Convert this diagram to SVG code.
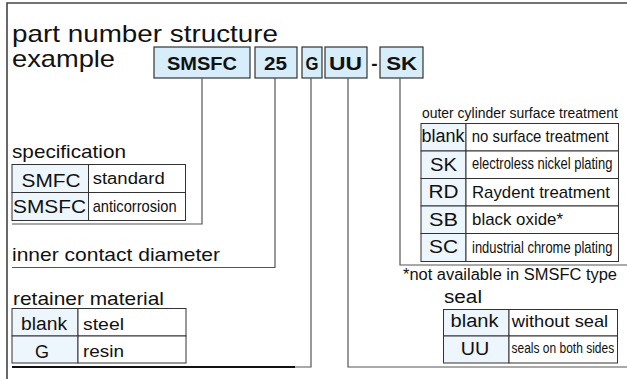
<svg xmlns="http://www.w3.org/2000/svg" width="627" height="379" viewBox="0 0 627 379">
<style>
text{font-family:"Liberation Sans",Arial,sans-serif;fill:#111}
.code{font-weight:bold;font-size:19px}
.cb{fill:#d7edfa;stroke:#333;stroke-width:1.2}
.kc{fill:#edf5fd;stroke:#333;stroke-width:1}
.vc{fill:#fff;stroke:#333;stroke-width:1}
.ln{fill:none;stroke:#555;stroke-width:1.2}
.fr{fill:none;stroke:#444;stroke-width:1.6}
</style>
<rect width="627" height="379" fill="#fff"/>
<path class="fr" d="M7,379 V3 H627"/>
<g id="title">
<text x="12" y="42" font-size="24" textLength="266" lengthAdjust="spacingAndGlyphs">part number structure</text>
<text x="12" y="66.5" font-size="24" textLength="103" lengthAdjust="spacingAndGlyphs">example</text>
</g>
<g id="code">
<rect class="cb" x="154" y="47" width="96" height="31"/>
<rect class="cb" x="255" y="47" width="42" height="31"/>
<rect class="cb" x="302" y="47" width="20" height="31"/>
<rect class="cb" x="325" y="47" width="42" height="31"/>
<rect class="cb" x="380" y="47" width="43" height="31"/>
<text class="code" x="202" y="70" text-anchor="middle" textLength="70" lengthAdjust="spacingAndGlyphs">SMSFC</text>
<text class="code" x="275.5" y="70" text-anchor="middle" textLength="23" lengthAdjust="spacingAndGlyphs">25</text>
<text class="code" x="312" y="70" text-anchor="middle" textLength="13" lengthAdjust="spacingAndGlyphs">G</text>
<text class="code" x="345.5" y="70" text-anchor="middle" textLength="33" lengthAdjust="spacingAndGlyphs">UU</text>
<text class="code" x="374.3" y="70" text-anchor="middle">-</text>
<text class="code" x="401.7" y="70" text-anchor="middle" textLength="31" lengthAdjust="spacingAndGlyphs">SK</text>
</g>
<g id="connectors">
<path class="ln" d="M202,78 V224 H12"/>
<path class="ln" d="M275,78 V267.5 H12"/>
<path class="ln" d="M311,78 V367 H12"/>
<path d="M12,367 H295" stroke="#111" stroke-width="2"/>
<path class="ln" d="M348,78 V367 H627"/>
<path class="ln" d="M400,78 V265 H627"/>
</g>
<g id="specification">
<text x="12" y="158" font-size="19" textLength="114" lengthAdjust="spacingAndGlyphs">specification</text>
<rect class="kc" x="12" y="164.5" width="76.5" height="28"/>
<rect class="vc" x="88.5" y="164.5" width="97" height="28"/>
<rect class="kc" x="12" y="192.5" width="76.5" height="28"/>
<rect class="vc" x="88.5" y="192.5" width="97" height="28"/>
<text x="51" y="187" font-size="18" text-anchor="middle" textLength="59" lengthAdjust="spacingAndGlyphs">SMFC</text>
<text x="92.7" y="183.5" font-size="16" textLength="72" lengthAdjust="spacingAndGlyphs">standard</text>
<text x="49.5" y="213" font-size="18" text-anchor="middle" textLength="73" lengthAdjust="spacingAndGlyphs">SMSFC</text>
<text transform="translate(92.7,211.5) scale(0.917,1)" font-size="16">anticorrosion</text>
</g>
<g id="inner-diameter">
<text x="12" y="261" font-size="19" textLength="208" lengthAdjust="spacingAndGlyphs">inner contact diameter</text>
</g>
<g id="retainer">
<text x="13" y="305" font-size="19" textLength="151" lengthAdjust="spacingAndGlyphs">retainer material</text>
<rect class="kc" x="12" y="308.5" width="66" height="27.5"/>
<rect class="vc" x="78" y="308.5" width="108" height="27.5"/>
<rect class="kc" x="12" y="336" width="66" height="27"/>
<rect class="vc" x="78" y="336" width="108" height="27"/>
<text x="44" y="330" font-size="18" text-anchor="middle" textLength="46" lengthAdjust="spacingAndGlyphs">blank</text>
<text x="83" y="330" font-size="17" textLength="41" lengthAdjust="spacingAndGlyphs">steel</text>
<text x="42" y="358" font-size="18" text-anchor="middle">G</text>
<text x="83" y="357" font-size="17" textLength="41" lengthAdjust="spacingAndGlyphs">resin</text>
</g>
<g id="surface">
<text transform="translate(422,118) scale(0.929,1)" font-size="15">outer cylinder surface treatment</text>
<rect class="kc" x="421" y="123.5" width="45" height="27.5"/>
<rect class="vc" x="466" y="123.5" width="152.5" height="27.5"/>
<rect class="kc" x="421" y="151" width="45" height="27.5"/>
<rect class="vc" x="466" y="151" width="152.5" height="27.5"/>
<rect class="kc" x="421" y="178.5" width="45" height="27.5"/>
<rect class="vc" x="466" y="178.5" width="152.5" height="27.5"/>
<rect class="kc" x="421" y="206" width="45" height="27.5"/>
<rect class="vc" x="466" y="206" width="152.5" height="27.5"/>
<rect class="kc" x="421" y="233.5" width="45" height="28"/>
<rect class="vc" x="466" y="233.5" width="152.5" height="28"/>
<text x="443" y="142" font-size="18" text-anchor="middle" textLength="43" lengthAdjust="spacingAndGlyphs">blank</text>
<text transform="translate(471.7,142) scale(0.934,1)" font-size="16">no surface treatment</text>
<text x="443.5" y="170.5" font-size="19" text-anchor="middle" textLength="27" lengthAdjust="spacingAndGlyphs">SK</text>
<text transform="translate(472,169) scale(0.81,1)" font-size="16">electroless nickel plating</text>
<text x="443.5" y="198" font-size="19" text-anchor="middle" textLength="30" lengthAdjust="spacingAndGlyphs">RD</text>
<text x="472" y="197.5" font-size="17" textLength="138" lengthAdjust="spacingAndGlyphs">Raydent treatment</text>
<text x="443.5" y="225.5" font-size="19" text-anchor="middle" textLength="29" lengthAdjust="spacingAndGlyphs">SB</text>
<text x="472" y="225" font-size="17" textLength="91" lengthAdjust="spacingAndGlyphs">black oxide*</text>
<text x="443.5" y="253" font-size="19" text-anchor="middle" textLength="29" lengthAdjust="spacingAndGlyphs">SC</text>
<text transform="translate(472,252.5) scale(0.81,1)" font-size="16">industrial chrome plating</text>
<text x="403" y="279.5" font-size="16" textLength="214" lengthAdjust="spacingAndGlyphs">*not available in SMSFC type</text>
</g>
<g id="seal">
<text x="444" y="303" font-size="18" textLength="38" lengthAdjust="spacingAndGlyphs">seal</text>
<rect class="kc" x="443.5" y="309.5" width="65.5" height="26.5"/>
<rect class="vc" x="509" y="309.5" width="108.5" height="26.5"/>
<rect class="kc" x="443.5" y="336" width="65.5" height="27"/>
<rect class="vc" x="509" y="336" width="108.5" height="27"/>
<text x="474.5" y="327" font-size="18" text-anchor="middle" textLength="48" lengthAdjust="spacingAndGlyphs">blank</text>
<text x="511.7" y="327" font-size="17" textLength="96.5" lengthAdjust="spacingAndGlyphs">without seal</text>
<text x="475" y="355" font-size="18" text-anchor="middle" textLength="28.5" lengthAdjust="spacingAndGlyphs">UU</text>
<text transform="translate(511.5,352.5) scale(0.8,1)" font-size="15">seals on both sides</text>
</g>
</svg>
